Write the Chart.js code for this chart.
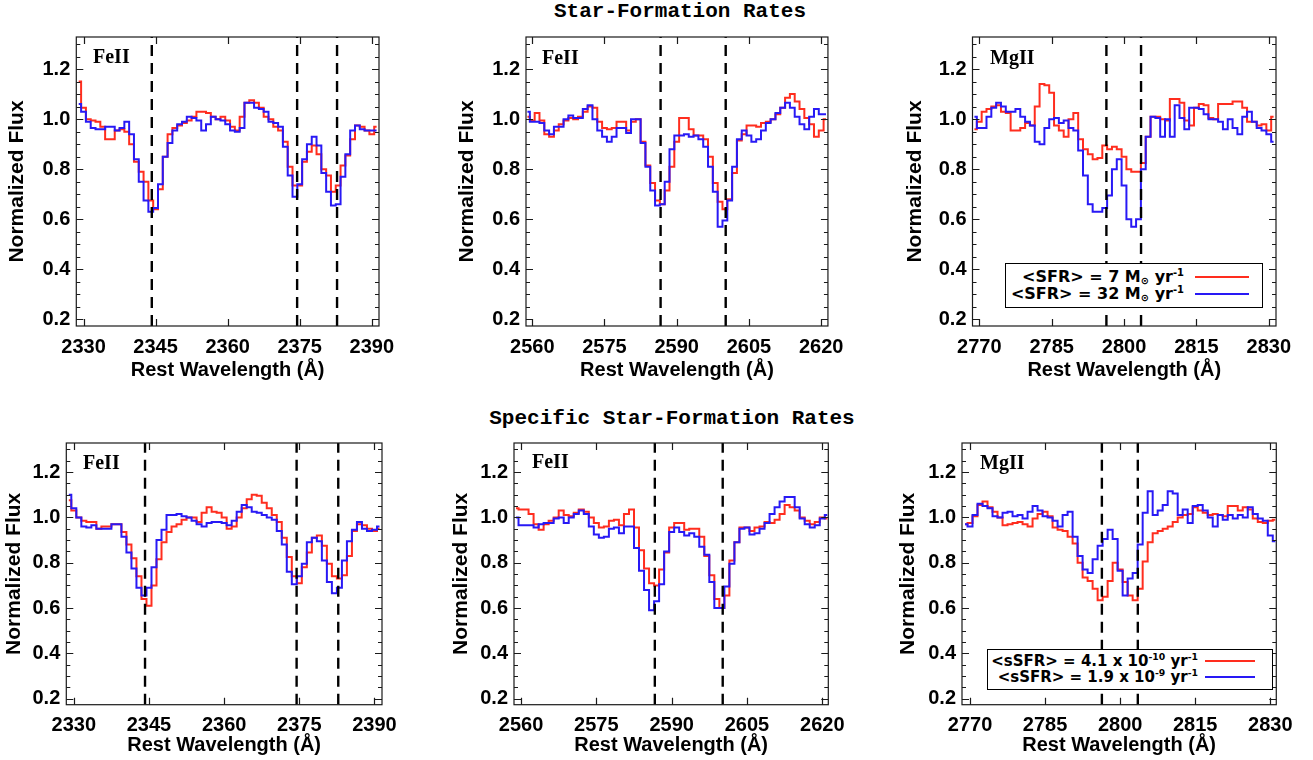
<!DOCTYPE html>
<html lang="en">
<head>
<meta charset="UTF-8">
<title>Star-Formation Rates</title>
<script src="https://cdn.jsdelivr.net/npm/chart.js"></script>
<style>
  html, body { margin: 0; padding: 0; background: #fff; overflow: hidden; }
  body { width: 1313px; height: 760px; position: relative; }
  .panel { position: absolute; }
  .title { position: absolute; width: 500px; text-align: center; font-family: "Liberation Mono", monospace; font-weight: bold; font-size: 21px; line-height: 22px; color: #000; }
  .ion { position: absolute; font-family: "Liberation Serif", serif; font-weight: bold; font-size: 20px; line-height: 20px; color: #000; }
  .legend { position: absolute; box-sizing: border-box; border: 1px solid #000; background: #fff; font-family: "DejaVu Sans", sans-serif; font-weight: bold; color: #000; }
  .legend .txt { position: absolute; white-space: nowrap; }
  .legend .key { position: absolute; height: 2px; }
  sup, sub { font-size: 62%; line-height: 0; position: relative; vertical-align: baseline; }
  sup { top: -0.6em; }
  sub { top: 0.25em; }
</style>
</head>
<body>
<div class="title" style="left:430px; top:1px;">Star-Formation Rates</div>
<div class="title" style="left:422px; top:408px;">Specific Star-Formation Rates</div>

<script>
// axis ticks
const yTicks = [0.2, 0.4, 0.6, 0.8, 1.0, 1.2];
const yMinorTicks = [0.25, 0.3, 0.35, 0.45, 0.5, 0.55, 0.65, 0.7, 0.75, 0.85, 0.9, 0.95, 1.05, 1.1, 1.15, 1.25, 1.3];
const feTicksA = [2330, 2345, 2360, 2375, 2390];
const feTicksB = [2560, 2575, 2590, 2605, 2620];
const mgTicks = [2770, 2785, 2800, 2815, 2830];

// rest wavelengths of the absorption lines (dashed)
const feLinesA = [2344.21, 2374.46, 2382.77];
const feLinesB = [2586.65, 2600.17];
const mgLines = [2796.35, 2803.53];

// first bin centre of each window, 1 A bins
const feStartA = 2329;
const feStartB = 2559;
const mgStart = 2769;

// <SFR> = 7 (red) and 32 (blue)
const sfrLowFeA = [
  1.15, 1.045, 1.0, 0.995, 0.99, 0.97, 0.92, 0.92, 0.955, 0.96,
  0.95, 0.90, 0.83, 0.79, 0.75, 0.675, 0.64, 0.72, 0.85, 0.94,
  0.965, 0.975, 0.985, 0.995, 1.01, 1.03, 1.03, 1.025, 1.01, 1.0,
  1.01, 0.995, 0.97, 0.955, 1.01, 1.065, 1.075, 1.065, 1.045, 1.01,
  1.0, 0.97, 0.955, 0.91, 0.81, 0.735, 0.735, 0.83, 0.87, 0.895,
  0.86, 0.80, 0.775, 0.71, 0.735, 0.815, 0.855, 0.92, 0.975, 0.97,
  0.955, 0.94, 0.97];
const sfrHighFeA = [
  1.06, 1.03, 0.99, 0.965, 0.96, 0.96, 0.97, 0.97, 0.955, 0.965,
  0.99, 0.94, 0.84, 0.75, 0.675, 0.63, 0.645, 0.74, 0.85, 0.905,
  0.955, 0.98, 0.99, 1.01, 1.005, 0.995, 0.955, 0.98, 1.01, 1.0,
  0.995, 0.98, 0.955, 0.95, 0.965, 1.065, 1.065, 1.045, 1.04, 1.03,
  0.99, 0.985, 0.97, 0.89, 0.775, 0.69, 0.74, 0.84, 0.90, 0.93,
  0.895, 0.785, 0.71, 0.655, 0.66, 0.77, 0.86, 0.955, 0.975, 0.96,
  0.955, 0.955, 0.955];
const sfrLowFeB = [
  1.01, 0.995, 1.025, 0.995, 0.94, 0.93, 0.955, 0.98, 0.995, 1.005,
  1.0, 1.01, 1.03, 1.05, 1.045, 0.99, 0.965, 0.96, 0.965, 0.99,
  0.99, 0.955, 0.99, 1.0, 0.91, 0.815, 0.745, 0.675, 0.66, 0.715,
  0.81, 0.91, 1.005, 1.005, 0.96, 0.935, 0.935, 0.92, 0.85, 0.745,
  0.67, 0.64, 0.68, 0.785, 0.915, 0.94, 0.975, 0.975, 0.97, 0.985,
  0.99, 1.0, 1.02, 1.045, 1.085, 1.1, 1.07, 1.04, 1.005, 0.98,
  0.93, 0.955, 1.0];
const sfrHighFeB = [
  1.03, 0.99, 0.99, 0.985, 0.955, 0.94, 0.97, 0.97, 1.0, 1.015,
  1.005, 1.005, 1.04, 1.055, 1.0, 0.955, 0.93, 0.91, 0.93, 0.965,
  0.965, 0.945, 1.0, 1.0, 0.905, 0.81, 0.715, 0.655, 0.66, 0.75,
  0.88, 0.935, 0.935, 0.94, 0.93, 0.935, 0.92, 0.89, 0.81, 0.71,
  0.57, 0.595, 0.675, 0.81, 0.92, 0.955, 0.935, 0.91, 0.92, 0.955,
  0.985, 1.0, 1.025, 1.045, 1.065, 1.045, 1.01, 0.98, 0.96, 1.01,
  1.04, 1.02, 1.02];
const sfrLowMg = [
  0.96, 0.99, 1.03, 1.04, 1.05, 1.055, 1.03, 1.025, 0.955, 0.955,
  0.965, 0.985, 0.975, 1.05, 1.14, 1.135, 1.105, 0.975, 0.955, 0.93,
  1.0, 1.025, 0.92, 0.88, 0.86, 0.84, 0.845, 0.895, 0.88, 0.89,
  0.88, 0.85, 0.80, 0.79, 0.79, 0.825, 0.93, 1.01, 1.01, 1.0,
  0.995, 1.08, 1.08, 1.065, 0.995, 0.975, 1.045, 1.06, 1.055, 1.005,
  1.0, 1.06, 1.06, 1.06, 1.07, 1.07, 1.045, 0.99, 0.99, 0.975,
  0.98, 0.955, 1.01];
const sfrHighMg = [
  1.01, 0.965, 0.965, 1.01, 1.045, 1.065, 1.05, 1.03, 1.03, 1.04,
  1.01, 0.99, 0.975, 0.91, 0.90, 0.965, 1.0, 1.005, 0.985, 0.995,
  0.965, 0.955, 0.875, 0.775, 0.66, 0.63, 0.63, 0.645, 0.695, 0.80,
  0.84, 0.735, 0.60, 0.57, 0.60, 0.80, 0.93, 1.01, 1.005, 0.93,
  1.0, 0.93, 1.055, 1.005, 0.96, 1.045, 1.045, 1.04, 1.02, 1.0,
  1.0, 0.99, 0.96, 1.0, 0.965, 0.94, 1.01, 1.03, 0.99, 0.965,
  0.955, 0.94, 0.91];

// <sSFR> = 4.1e-10 (red) and 1.9e-9 (blue)
const ssfrLowFeA = [
  1.075, 1.03, 1.0, 0.985, 0.98, 0.98, 0.95, 0.96, 0.96, 0.97,
  0.97, 0.935, 0.88, 0.82, 0.74, 0.64, 0.61, 0.70, 0.815, 0.89,
  0.935, 0.96, 0.97, 0.99, 1.0, 1.0, 0.98, 1.02, 1.045, 1.025,
  1.02, 1.0, 0.95, 0.96, 1.0, 1.04, 1.08, 1.1, 1.095, 1.065,
  1.04, 1.01, 0.98, 0.91, 0.825, 0.74, 0.71, 0.78, 0.845, 0.91,
  0.92, 0.875, 0.795, 0.74, 0.73, 0.745, 0.83, 0.94, 0.97, 0.965,
  0.95, 0.94, 0.95];
const ssfrHighFeA = [
  1.10, 1.04, 1.0, 0.96, 0.955, 0.965, 0.95, 0.95, 0.95, 0.97,
  0.97, 0.915, 0.845, 0.775, 0.69, 0.655, 0.69, 0.78, 0.90, 0.945,
  1.01, 1.01, 1.015, 1.005, 1.0, 0.985, 0.97, 0.96, 0.975, 0.98,
  0.98, 0.975, 0.965, 0.985, 1.025, 1.055, 1.045, 1.025, 1.02, 1.01,
  1.0, 0.99, 0.94, 0.88, 0.76, 0.705, 0.74, 0.795, 0.89, 0.91,
  0.895, 0.81, 0.715, 0.665, 0.69, 0.81, 0.895, 0.945, 0.98, 0.95,
  0.94, 0.945, 0.96];
const ssfrLowFeB = [
  1.04, 1.035, 1.035, 1.015, 0.97, 0.945, 0.97, 0.985, 1.0, 1.03,
  1.01, 1.005, 1.02, 1.035, 1.025, 1.0, 0.975, 0.955, 0.96, 0.985,
  0.99, 0.965, 1.015, 1.035, 0.955, 0.855, 0.775, 0.71, 0.70, 0.77,
  0.845, 0.955, 0.975, 0.975, 0.945, 0.95, 0.95, 0.915, 0.83, 0.745,
  0.64, 0.60, 0.655, 0.81, 0.89, 0.955, 0.955, 0.94, 0.955, 0.96,
  0.98, 0.975, 0.99, 1.015, 1.055, 1.045, 1.03, 1.0, 0.985, 0.97,
  0.98, 1.0, 0.995];
const ssfrHighFeB = [
  1.0, 0.965, 0.965, 0.965, 0.955, 0.97, 0.975, 0.975, 0.995, 1.0,
  0.975, 1.0, 1.015, 1.03, 1.015, 0.96, 0.925, 0.91, 0.915, 0.95,
  0.955, 0.93, 0.96, 0.96, 0.865, 0.765, 0.68, 0.59, 0.63, 0.705,
  0.85, 0.935, 0.955, 0.935, 0.92, 0.93, 0.915, 0.87, 0.835, 0.715,
  0.60, 0.60, 0.695, 0.795, 0.89, 0.95, 0.955, 0.925, 0.93, 0.95,
  0.975, 1.015, 1.045, 1.07, 1.09, 1.09, 1.045, 0.995, 0.97, 0.955,
  0.965, 0.995, 1.01];
const ssfrLowMg = [
  0.97, 0.975, 1.005, 1.055, 1.07, 1.045, 1.025, 1.0, 0.965, 0.97,
  0.975, 0.98, 0.97, 0.96, 0.995, 1.015, 1.025, 1.005, 0.955, 0.945,
  0.94, 0.915, 0.885, 0.80, 0.735, 0.72, 0.685, 0.635, 0.65, 0.72,
  0.80, 0.77, 0.715, 0.655, 0.635, 0.685, 0.805, 0.89, 0.93, 0.94,
  0.95, 0.96, 0.98, 1.0, 1.01, 1.015, 1.045, 1.03, 1.02, 1.01,
  1.015, 1.01, 1.005, 1.05, 1.05, 1.03, 1.045, 1.035, 0.995, 0.98,
  0.975, 0.985, 0.99];
const ssfrHighMg = [
  0.97, 0.96, 1.01, 1.06, 1.05, 1.04, 1.005, 1.0, 1.02, 1.025,
  1.005, 1.01, 0.995, 1.025, 1.05, 1.03, 1.005, 1.0, 0.985, 0.96,
  1.01, 1.025, 0.915, 0.83, 0.77, 0.755, 0.815, 0.875, 0.905, 0.945,
  0.905, 0.765, 0.655, 0.73, 0.755, 0.88, 1.02, 1.115, 1.01, 1.03,
  1.055, 1.115, 1.105, 1.01, 1.035, 0.975, 1.05, 1.055, 1.03, 1.0,
  0.96, 1.01, 0.99, 1.01, 0.995, 1.01, 1.0, 1.045, 1.015, 0.995,
  0.985, 0.92, 0.895];

const RED = 'rgb(255,45,30)';
const BLUE = 'rgb(40,25,245)';
const Y_MIN = 0.174, Y_MAX = 1.328;

const panels = [
  { ion: 'FeII', start: feStartA, red: sfrLowFeA, blue: sfrHighFeA, lines: feLinesA, ticks: feTicksA,
    xMin: 2328.5, xMax: 2391.5, box: { l: 76.3, r: 379.3, t: 29, b: 326 }, yTitleX: 18, xTitleY: 370, ionAt: [93, 49] },
  { ion: 'FeII', start: feStartB, red: sfrLowFeB, blue: sfrHighFeB, lines: feLinesB, ticks: feTicksB,
    xMin: 2558.7, xMax: 2621.4, box: { l: 526, r: 828, t: 29, b: 326 }, yTitleX: 468, xTitleY: 370, ionAt: [542, 50] },
  { ion: 'MgII', start: mgStart, red: sfrLowMg, blue: sfrHighMg, lines: mgLines, ticks: mgTicks,
    xMin: 2768.6, xMax: 2831.5, box: { l: 972.5, r: 1275.7, t: 29, b: 326 }, yTitleX: 916, xTitleY: 370, ionAt: [990, 50] },
  { ion: 'FeII', start: feStartA, red: ssfrLowFeA, blue: ssfrHighFeA, lines: feLinesA, ticks: feTicksA,
    xMin: 2328.5, xMax: 2391.5, box: { l: 66.3, r: 382.3, t: 435.3, b: 705 }, yTitleX: 14.5, xTitleY: 745, ionAt: [83, 455] },
  { ion: 'FeII', start: feStartB, red: ssfrLowFeB, blue: ssfrHighFeB, lines: feLinesB, ticks: feTicksB,
    xMin: 2558.6, xMax: 2621.2, box: { l: 514, r: 829, t: 435.3, b: 705 }, yTitleX: 462, xTitleY: 745, ionAt: [532, 454] },
  { ion: 'MgII', start: mgStart, red: ssfrLowMg, blue: ssfrHighMg, lines: mgLines, ticks: mgTicks,
    xMin: 2768.4, xMax: 2831.2, box: { l: 962, r: 1276.7, t: 435.3, b: 705 }, yTitleX: 909, xTitleY: 745, ionAt: [980, 455] }
];

const tickFont = { family: 'Liberation Sans', size: 20, weight: 'bold' };

// IDL style box: frame plus inward ticks on all four sides
const framePlugin = {
  id: 'frame',
  afterDraw(chart) {
    const { ctx, chartArea: a, scales: { x, y } } = chart;
    const ticks = chart.options.plugins.frame.ticks;
    ctx.save();
    ctx.strokeStyle = '#1a1a1a';
    ctx.lineWidth = 1.2;
    ctx.strokeRect(a.left, a.top, a.right - a.left, a.bottom - a.top);
    ctx.beginPath();
    const yMark = (v, len) => {
      const py = Math.round(y.getPixelForValue(v)) + 0.5;
      ctx.moveTo(a.left, py); ctx.lineTo(a.left + len, py);
      ctx.moveTo(a.right, py); ctx.lineTo(a.right - len, py);
    };
    yTicks.forEach(v => yMark(v, 7));
    yMinorTicks.forEach(v => yMark(v, 4));
    ticks.forEach(v => {
      const px = Math.round(x.getPixelForValue(v)) + 0.5;
      ctx.moveTo(px, a.bottom); ctx.lineTo(px, a.bottom - 7);
      ctx.moveTo(px, a.top); ctx.lineTo(px, a.top + 7);
    });
    ctx.stroke();
    ctx.restore();
  }
};

function binned(start, values) {
  return values.map((v, i) => ({ x: start + i, y: v }));
}

function buildPanel(p) {
  const padTop = 10, padRight = 25;
  const left = Math.round(p.yTitleX - 16.6);
  const top = p.box.t - padTop;
  const width = Math.round(p.box.r - left + padRight);
  const height = Math.round(p.xTitleY + 14 - top);
  const yWidth = p.box.l - left;
  const xHeight = height - padTop - (p.box.b - p.box.t);

  const div = document.createElement('div');
  div.className = 'panel';
  div.style.left = left + 'px';
  div.style.top = top + 'px';
  div.style.width = width + 'px';
  div.style.height = height + 'px';
  const canvas = document.createElement('canvas');
  div.appendChild(canvas);
  document.body.appendChild(div);

  const ion = document.createElement('div');
  ion.className = 'ion';
  ion.textContent = p.ion;
  ion.style.left = p.ionAt[0] + 'px';
  ion.style.top = (p.ionAt[1] - 3) + 'px';
  document.body.appendChild(ion);

  const datasets = p.lines.map(w => ({
    data: [{ x: w, y: Y_MIN }, { x: w, y: Y_MAX }],
    borderColor: '#000', borderWidth: 2.4, borderDash: [11, 7],
    pointRadius: 0, order: 0
  }));
  datasets.push({
    data: binned(p.start, p.blue), stepped: 'middle',
    borderColor: BLUE, borderWidth: 2, pointRadius: 0, order: 1
  });
  datasets.push({
    data: binned(p.start, p.red), stepped: 'middle',
    borderColor: RED, borderWidth: 2, pointRadius: 0, order: 2
  });

  new Chart(canvas, {
    type: 'line',
    data: { datasets },
    plugins: [framePlugin],
    options: {
      responsive: true,
      maintainAspectRatio: false,
      animation: false,
      events: [],
      layout: { padding: { left: 0, top: padTop, right: padRight, bottom: 0 }, autoPadding: false },
      plugins: {
        legend: { display: false },
        tooltip: { enabled: false },
        frame: { ticks: p.ticks }
      },
      scales: {
        x: {
          type: 'linear', min: p.xMin, max: p.xMax,
          afterBuildTicks: s => { s.ticks = p.ticks.map(v => ({ value: v })); },
          afterFit: s => { s.height = xHeight; },
          grid: { display: false, drawTicks: false },
          border: { display: false },
          ticks: { font: tickFont, color: '#000', padding: 9, autoSkip: false, maxRotation: 0, callback: v => String(v) },
          title: { display: true, text: 'Rest Wavelength (Å)', color: '#000',
                   font: { family: 'Liberation Sans', size: 20, weight: 'bold' }, padding: { top: 0, bottom: 2 } }
        },
        y: {
          type: 'linear', min: Y_MIN, max: Y_MAX,
          afterBuildTicks: s => { s.ticks = yTicks.map(v => ({ value: v })); },
          afterFit: s => { s.width = yWidth; },
          grid: { display: false, drawTicks: false },
          border: { display: false },
          ticks: { font: tickFont, color: '#000', padding: 6, autoSkip: false, callback: v => v.toFixed(1) },
          title: { display: true, text: 'Normalized Flux', color: '#000',
                   font: { family: 'Liberation Sans', size: 21, weight: 'bold' }, padding: { top: 4, bottom: 0 } }
        }
      }
    }
  });
}

panels.forEach(buildPanel);

// legends
function addLegend(box, rows, textRight, keyLeft, keyWidth, fontSize) {
  const lg = document.createElement('div');
  lg.className = 'legend';
  lg.style.left = box[0] + 'px';
  lg.style.top = box[1] + 'px';
  lg.style.width = box[2] + 'px';
  lg.style.height = box[3] + 'px';
  lg.style.fontSize = fontSize + 'px';
  rows.forEach(r => {
    const t = document.createElement('div');
    t.className = 'txt';
    t.innerHTML = r.html;
    t.style.right = (box[2] - 2 - textRight) + 'px';
    t.style.top = (r.cy - 1 - fontSize / 2) + 'px';
    t.style.lineHeight = fontSize + 'px';
    lg.appendChild(t);
    const k = document.createElement('div');
    k.className = 'key';
    k.style.left = (keyLeft - 1) + 'px';
    k.style.width = keyWidth + 'px';
    k.style.top = (r.cy - 2) + 'px';
    k.style.background = r.color;
    lg.appendChild(k);
  });
  document.body.appendChild(lg);
}

addLegend([1005, 263, 258, 45], [
  { html: '&lt;SFR&gt; = 7 M<sub>⊙</sub> yr<sup>-1</sup>', cy: 14, color: RED },
  { html: '&lt;SFR&gt; = 32 M<sub>⊙</sub> yr<sup>-1</sup>', cy: 30.7, color: BLUE }
], 178, 190, 54, 16);

addLegend([987, 649, 286, 41], [
  { html: '&lt;sSFR&gt; = 4.1 x 10<sup>-10</sup> yr<sup>-1</sup>', cy: 12, color: RED },
  { html: '&lt;sSFR&gt; = 1.9 x 10<sup>-9</sup> yr<sup>-1</sup>', cy: 28.3, color: BLUE }
], 210, 218, 50, 15);
</script>
</body>
</html>
